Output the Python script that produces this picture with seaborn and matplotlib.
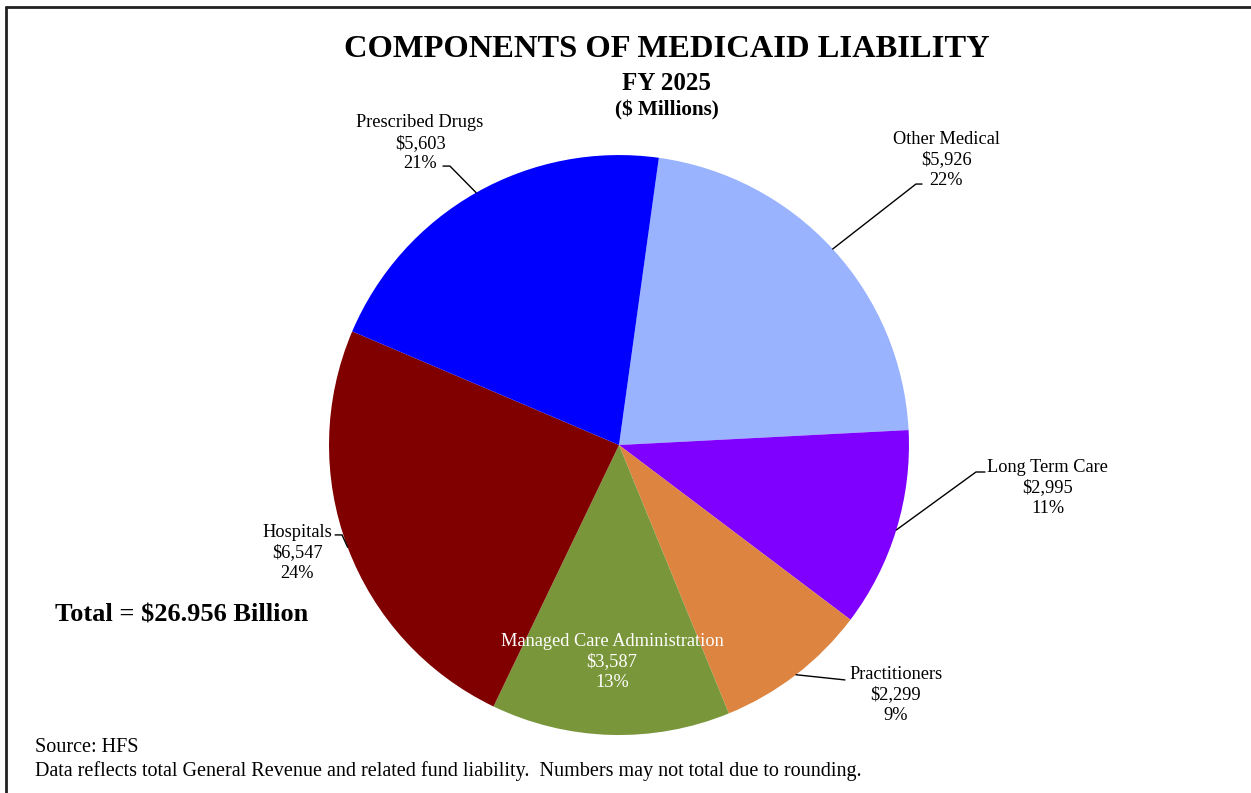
import numpy as np
import matplotlib
matplotlib.use("Agg")
import matplotlib.pyplot as plt
from matplotlib.lines import Line2D
import seaborn as sns

# Medicaid liability components, FY 2025 ($ millions)
categories = ["Other Medical", "Long Term Care", "Practitioners",
              "Managed Care Administration", "Hospitals", "Prescribed Drugs"]
values = [5926, 2995, 2299, 3587, 6547, 5603]
colors = ["#99B3FF", "#8000FF", "#DD8540", "#7A963A", "#800000", "#0000FF"]
total_label = "Total = $26.956 Billion"

sns.set_theme(style="white")
plt.rcParams["font.family"] = ["Liberation Serif", "DejaVu Serif"]
plt.rcParams["text.color"] = "black"

fig = plt.figure(figsize=(12.51, 7.93), dpi=100)
fig.patch.set_facecolor("white")

ax = fig.add_axes([0.263, 0.0731, 0.4636, 0.7314])
wedges, _ = ax.pie(values, colors=colors, startangle=82.1, counterclock=False,
                   radius=1.0, wedgeprops=dict(linewidth=0))
ax.set_xlim(-1, 1)
ax.set_ylim(-1, 1)
ax.set_aspect("equal")
ax.axis("off")

total = sum(values)
pcts = [round(v / total * 100) for v in values]

# label text centre, leader elbow and the point where the leader leaves the text
label_pos = {
    "Other Medical": ((1.128, 0.983), (1.024, 0.90), (1.045, 0.90)),
    "Long Term Care": ((1.479, -0.148), (1.231, -0.093), (1.262, -0.093)),
    "Practitioners": ((0.955, -0.862), (0.779, -0.81), (0.779, -0.81)),
    "Managed Care Administration": ((-0.024, -0.748), None, None),
    "Hospitals": ((-1.11, -0.372), (-0.955, -0.31), (-0.979, -0.31)),
    "Prescribed Drugs": ((-0.686, 1.041), (-0.583, 0.962), (-0.607, 0.962)),
}

for w, cat, v, p in zip(wedges, categories, values, pcts):
    (tx, ty), elbow, tail = label_pos[cat]
    txt = f"{cat}\n${v:,}\n{p}%"
    inside = elbow is None
    ax.text(tx, ty, txt, ha="center", va="center", fontsize=13.2,
            linespacing=1.27, color="white" if inside else "black",
            zorder=5, clip_on=False)
    if not inside:
        mid = np.deg2rad((w.theta1 + w.theta2) / 2)
        ex, ey = np.cos(mid), np.sin(mid)
        ax.plot([ex, elbow[0], tail[0]], [ey, elbow[1], tail[1]],
                color="black", lw=1.0, clip_on=False, zorder=4)

title_x = 0.533
fig.text(title_x, 0.938, "COMPONENTS OF MEDICAID LIABILITY", ha="center",
         va="center", fontsize=23.4, fontweight="bold")
fig.text(title_x, 0.895, "FY 2025", ha="center", va="center", fontsize=18,
         fontweight="bold")
fig.text(title_x, 0.861, "($ Millions)", ha="center", va="center", fontsize=15.2,
         fontweight="bold")
fig.text(0.044, 0.225, total_label, ha="left", va="center", fontsize=19,
         fontweight="bold")
fig.text(0.028, 0.058, "Source: HFS", ha="left", va="center", fontsize=14.5)
fig.text(0.028, 0.028,
         "Data reflects total General Revenue and related fund liability.  "
         "Numbers may not total due to rounding.",
         ha="left", va="center", fontsize=14.5)

# frame along top and left edges
fig.add_artist(Line2D([0.0048, 1.0], [0.9912, 0.9912], transform=fig.transFigure,
                      color="#222222", lw=2))
fig.add_artist(Line2D([0.0048, 0.0048], [0.0, 0.9912], transform=fig.transFigure,
                      color="#222222", lw=2))

fig.savefig("out.png", dpi=100, facecolor="white")
